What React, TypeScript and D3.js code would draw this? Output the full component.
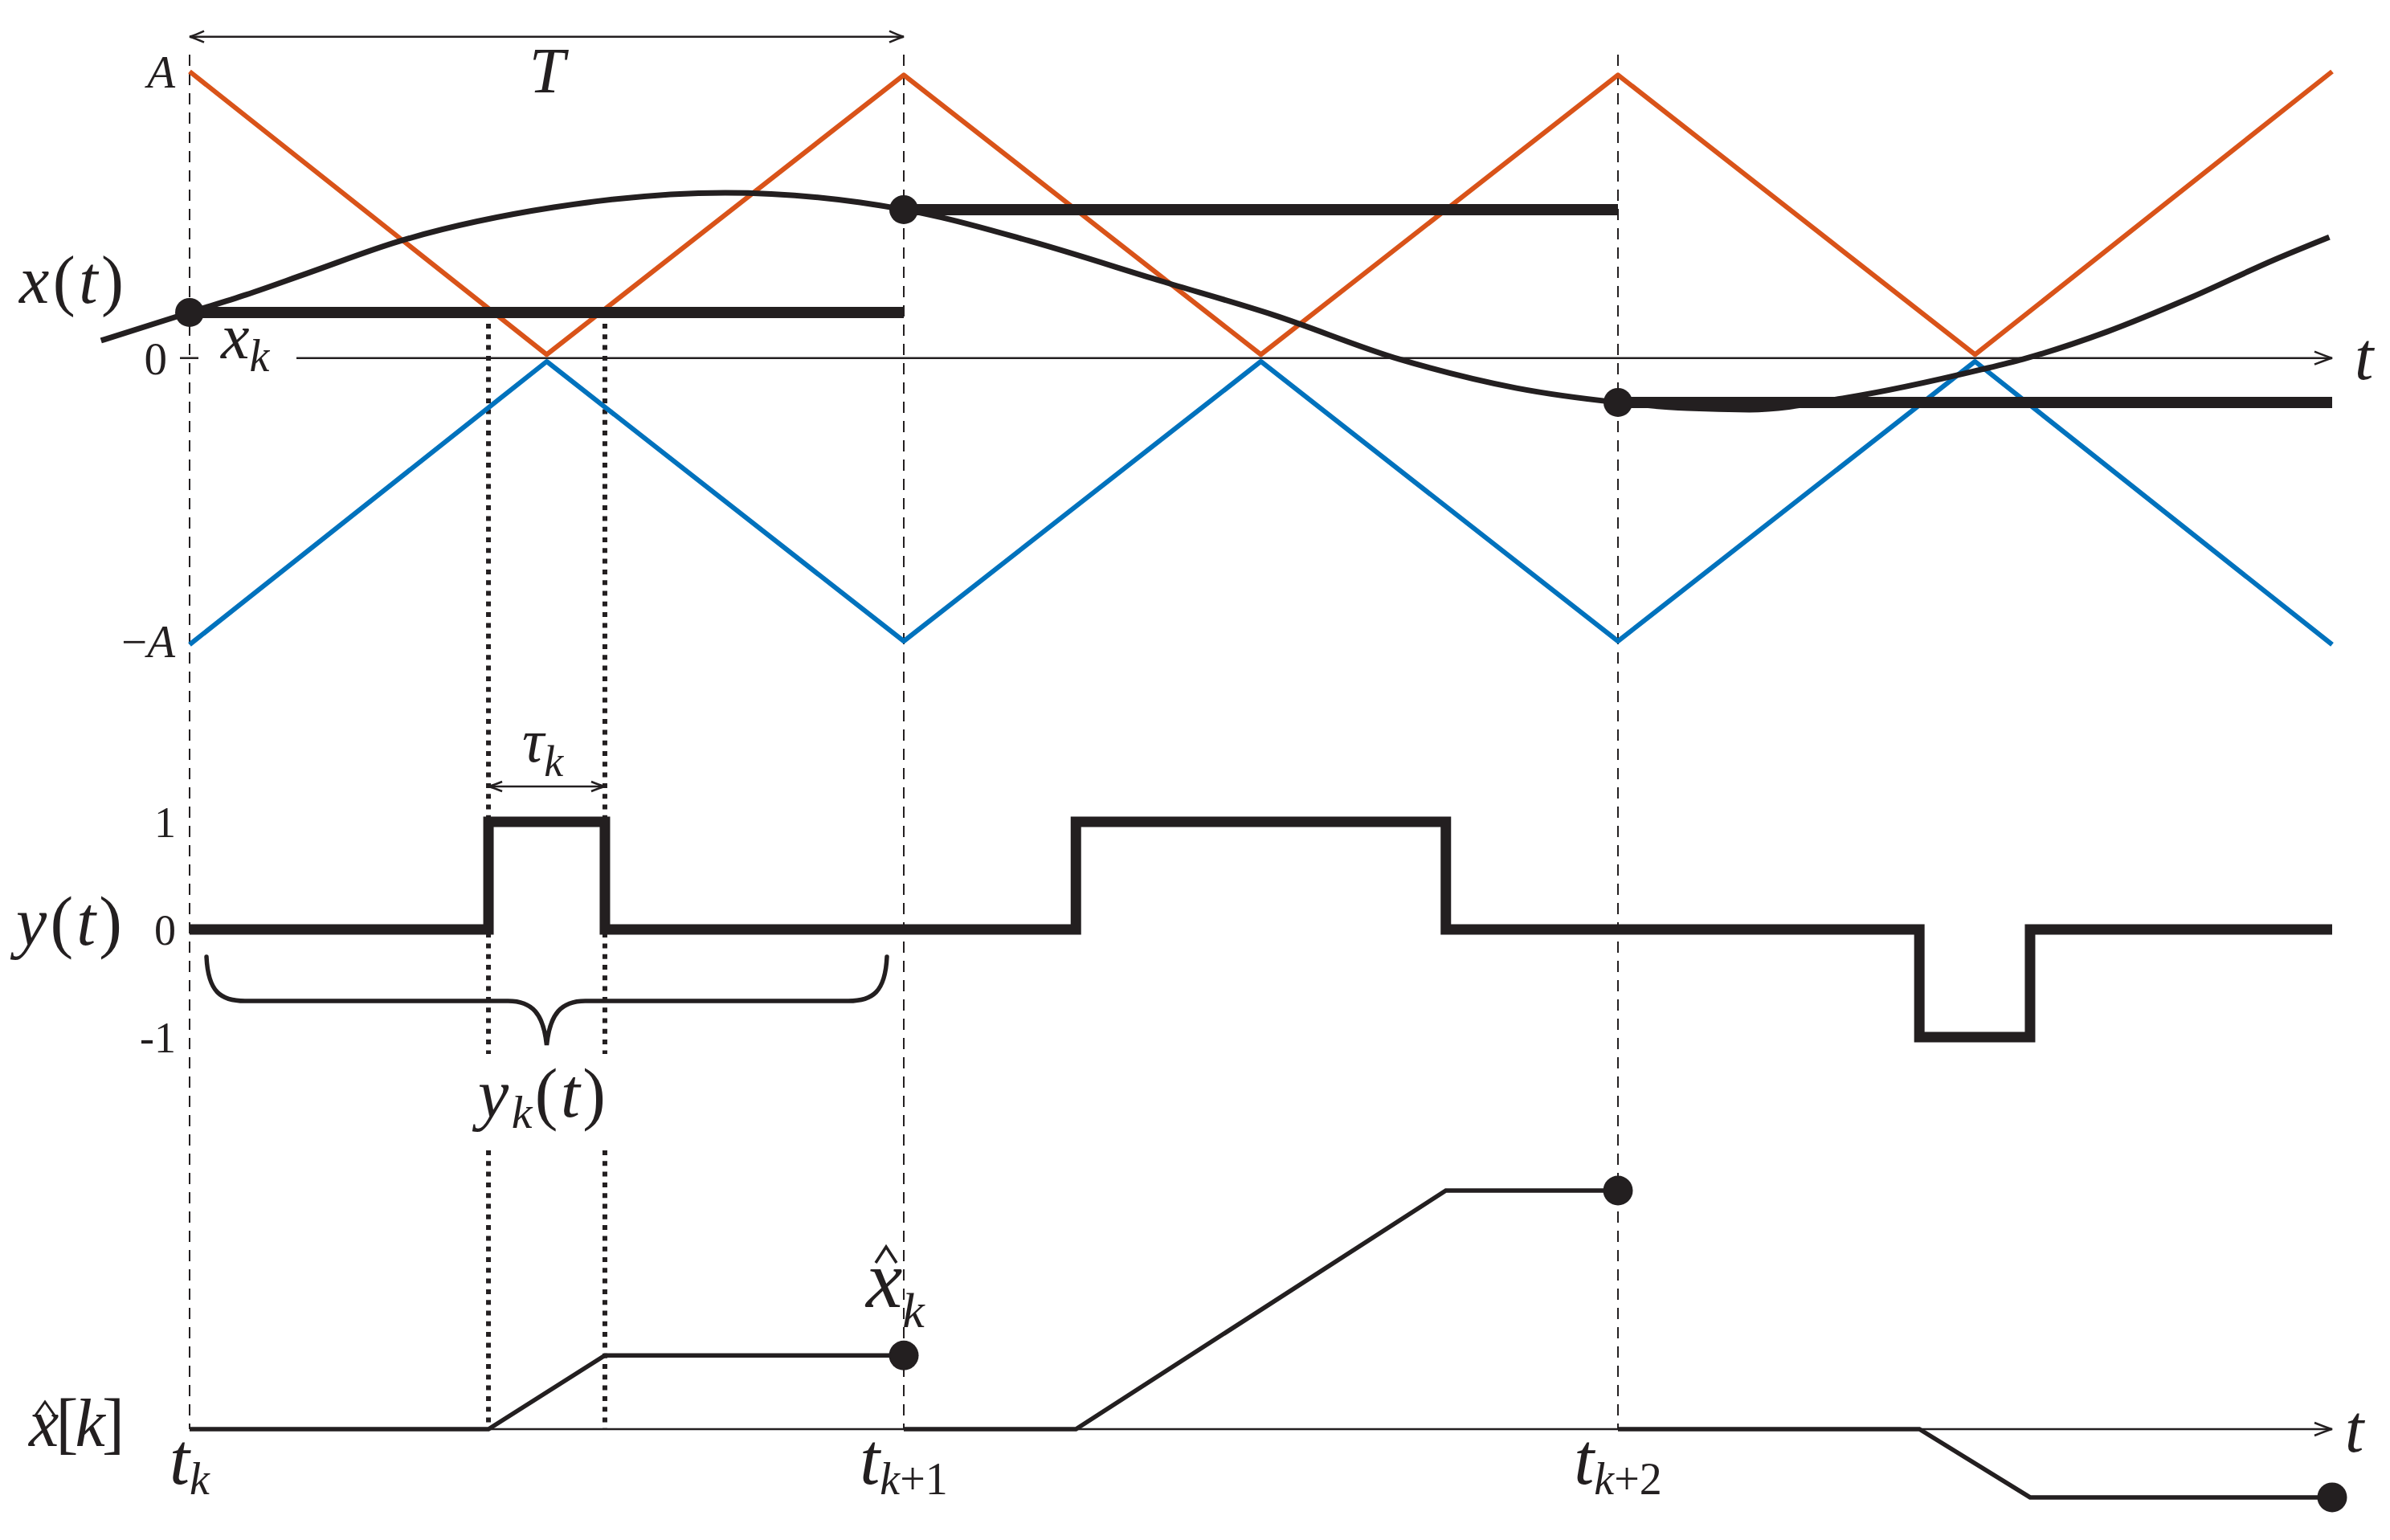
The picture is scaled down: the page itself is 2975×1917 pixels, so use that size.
import * as d3 from "d3";

// time is in units of T, measured from t_k; amplitudes in units of A
const carrierT = [0, 0.5, 1, 1.5, 2, 2.5, 3];
const carrierUp = [1, 0.012, 0.988, 0.012, 0.988, 0.012, 1];
const carrierDown = [-1, -0.012, -0.988, -0.012, -0.988, -0.012, -1];

// x(t)
const signalT = [-0.124, 0, 0.079, 0.165, 0.294, 0.51, 0.75, 0.939, 1.0, 1.04, 1.177, 1.36, 1.517, 1.694, 1.858, 2.0, 2.097, 2.184, 2.321, 2.509, 2.567, 2.685, 2.803, 2.92, 2.996];
const signalX = [0.061, 0.159, 0.221, 0.296, 0.408, 0.526, 0.577, 0.543, 0.518, 0.498, 0.408, 0.269, 0.151, -0.004, -0.105, -0.155, -0.175, -0.18, -0.138, -0.04, -0.004, 0.092, 0.212, 0.344, 0.422];

// held samples x_k
const sampleT = [0, 1, 2];
const sampleX = [0.159, 0.518, -0.155];

// pulses of y(t)
const pulseStart = [0.4185, 1.241, 2.422];
const pulseEnd = [0.5815, 1.759, 2.577];
const pulseSign = [1, 1, -1];

// reconstructed x̂ levels
const xhatLevel = [0.161, 0.521, -0.149];

const ampTicks = [1, 0, -1];
const yTicks = [1, 0, -1];
const yTickLabels = ["1", "0", "-1"];
const timeSubs = ["k", "k+1", "k+2"];

const W = 2975;
const H = 1917;
const FONT = "Liberation Serif, DejaVu Serif, serif";
const INK = "#231f20";

const x = d3.scaleLinear().domain([0, 3]).range([236, 2903]);
const yA = d3.scaleLinear().domain([-1, 1]).range([802.4, 89]);
const yY = d3.scaleLinear().domain([-1, 1]).range([1291, 1023]);
const yH = d3.scaleLinear().domain([0, 1]).range([1779, 1209]);

function arrowHead(tipX: number, y: number, dir: number, len = 18, half = 7) {
    return `M${tipX - dir * len},${y - half} Q${tipX - dir * 6},${y - 1.5} ${tipX},${y} Q${tipX - dir * 6},${y + 1.5} ${tipX - dir * len},${y + half}`;
}

export default function App() {
    const lineA = d3.line<[number, number]>().x(d => x(d[0])).y(d => yA(d[1]));
    const curveA = d3.line<[number, number]>().x(d => x(d[0])).y(d => yA(d[1])).curve(d3.curveMonotoneX);
    const lineY = d3.line<[number, number]>().x(d => x(d[0])).y(d => yY(d[1]));
    const lineH = d3.line<[number, number]>().x(d => x(d[0])).y(d => yH(d[1]));

    const up = carrierT.map((t, i) => [t, carrierUp[i]] as [number, number]);
    const down = carrierT.map((t, i) => [t, carrierDown[i]] as [number, number]);
    const sig = signalT.map((t, i) => [t, signalX[i]] as [number, number]);

    const pulsePts: [number, number][] = [[0, 0]];
    pulseStart.forEach((s, i) => {
        pulsePts.push([s, 0], [s, pulseSign[i]], [pulseEnd[i], pulseSign[i]], [pulseEnd[i], 0]);
    });
    pulsePts.push([3, 0]);

    const xhatSegs = sampleT.map((k, i) => [
        [k, 0], [pulseStart[i], 0], [pulseEnd[i], xhatLevel[i]], [k + 1, xhatLevel[i]],
    ] as [number, number][]);

    const y0 = yA(0);
    const yB = yH(0);
    const dotTop = yA(sampleX[0]) + 14;

    // brace under the first period
    const bL = x(0) + 21, bR = x(1) - 21, bM = x(0.5);
    const braceD = `M${bL},1191 C${bL + 2},1235 ${bL + 18},1246 ${bL + 48},1246 L${bM - 48},1246 C${bM - 18},1246 ${bM - 4},1262 ${bM},1301 C${bM + 4},1262 ${bM + 18},1246 ${bM + 48},1246 L${bR - 48},1246 C${bR - 18},1246 ${bR - 2},1235 ${bR},1191`;

    return (
        <svg width={W} height={H} style={{ position: "absolute", left: 0, top: 0, background: "#fff", fontFamily: FONT }} fill={INK}>
            {/* dashed sampling instants */}
            {sampleT.map(k => (
                <line key={k} x1={x(k)} x2={x(k)} y1={68} y2={yB} stroke={INK} strokeWidth={2} strokeDasharray="14 10" />
            ))}

            {/* dotted crossing lines */}
            {[pulseStart[0], pulseEnd[0]].map(t => (
                <g key={t}>
                    <line x1={x(t)} x2={x(t)} y1={dotTop} y2={1312} stroke={INK} strokeWidth={6} strokeDasharray="6 7.3" />
                    <line x1={x(t)} x2={x(t)} y1={1432} y2={yB} stroke={INK} strokeWidth={6} strokeDasharray="6 7.3" />
                </g>
            ))}

            {/* T arrow */}
            <line x1={x(0)} x2={x(1)} y1={45.7} y2={45.7} stroke={INK} strokeWidth={2.5} />
            <path d={arrowHead(x(0), 45.7, -1)} fill="none" stroke={INK} strokeWidth={2.5} />
            <path d={arrowHead(x(1), 45.7, 1)} fill="none" stroke={INK} strokeWidth={2.5} />
            <text x={681} y={115} fontSize={80} fontStyle="italic" textAnchor="middle">T</text>

            {/* top axis */}
            <line x1={224} x2={247} y1={y0} y2={y0} stroke={INK} strokeWidth={2.5} />
            <line x1={369} x2={2900} y1={y0} y2={y0} stroke={INK} strokeWidth={2.5} />
            <path d={arrowHead(2903, y0, 1, 22, 8)} fill="none" stroke={INK} strokeWidth={2.5} />
            <text x={2931} y={472} fontSize={84} fontStyle="italic">t</text>

            {/* carriers */}
            <path d={lineA(up) || ""} fill="none" stroke="#d95319" strokeWidth={6} strokeLinejoin="round" />
            <path d={lineA(down) || ""} fill="none" stroke="#0072bd" strokeWidth={6} strokeLinejoin="round" />

            {/* x(t) and held samples */}
            <path d={curveA(sig) || ""} fill="none" stroke={INK} strokeWidth={7} />
            {sampleT.map((k, i) => (
                <line key={k} x1={x(k)} x2={x(k + 1)} y1={yA(sampleX[i])} y2={yA(sampleX[i])} stroke={INK} strokeWidth={14} />
            ))}
            {sampleT.map((k, i) => (
                <circle key={k} cx={x(k)} cy={yA(sampleX[i])} r={18} fill={INK} />
            ))}

            {/* amplitude labels */}
            {ampTicks.map(v => (
                <text key={v} x={v === 0 ? 208 : 218} y={yA(v) + (v === -1 ? 16 : 20)} fontSize={57} textAnchor="end">
                    {v === 1 && <tspan fontStyle="italic">A</tspan>}
                    {v === 0 && "0"}
                    {v === -1 && <><tspan>{"\u2212"}</tspan><tspan fontStyle="italic">A</tspan></>}
                </text>
            ))}
            <text x={24} y={377} fontSize={84} textLength={130} lengthAdjust="spacing">
                <tspan fontStyle="italic">x</tspan>(<tspan fontStyle="italic">t</tspan>)
            </text>
            <text x={275} y={446} fontSize={80} fontStyle="italic">
                x<tspan fontSize={56} dy={16}>k</tspan>
            </text>

            {/* tau arrow */}
            <line x1={x(pulseStart[0])} x2={x(pulseEnd[0])} y1={979} y2={979} stroke={INK} strokeWidth={2.5} />
            <path d={arrowHead(x(pulseStart[0]), 979, -1, 17, 6)} fill="none" stroke={INK} strokeWidth={2.5} />
            <path d={arrowHead(x(pulseEnd[0]), 979, 1, 17, 6)} fill="none" stroke={INK} strokeWidth={2.5} />
            <text x={650} y={948} fontSize={76} fontStyle="italic">
                τ<tspan fontSize={54} dy={18}>k</tspan>
            </text>

            {/* y(t) */}
            <path d={lineY(pulsePts) || ""} fill="none" stroke={INK} strokeWidth={13} strokeLinejoin="miter" />
            {yTicks.map((v, i) => (
                <text key={v} x={219} y={yY(v) + 19} fontSize={54} textAnchor="end">{yTickLabels[i]}</text>
            ))}
            <text x={20} y={1176} fontSize={86} textLength={132} lengthAdjust="spacing">
                <tspan fontStyle="italic">y</tspan>(<tspan fontStyle="italic">t</tspan>)
            </text>
            <path d={braceD} fill="none" stroke={INK} strokeWidth={5.5} strokeLinecap="round" />
            <text x={595} y={1390} fontSize={86} textLength={159} lengthAdjust="spacing">
                <tspan fontStyle="italic">y</tspan><tspan fontStyle="italic" fontSize={58} dy={14}>k</tspan><tspan dy={-14}>(</tspan><tspan fontStyle="italic">t</tspan>)
            </text>

            {/* x̂[k] */}
            <line x1={x(0)} x2={2900} y1={yB} y2={yB} stroke={INK} strokeWidth={2.5} />
            <path d={arrowHead(2903, yB, 1, 22, 8)} fill="none" stroke={INK} strokeWidth={2.5} />
            <text x={2919} y={1807} fontSize={84} fontStyle="italic">t</text>
            {xhatSegs.map((seg, i) => (
                <path key={i} d={lineH(seg) || ""} fill="none" stroke={INK} strokeWidth={5.5} />
            ))}
            {sampleT.map((k, i) => (
                <circle key={k} cx={x(k + 1)} cy={yH(xhatLevel[i])} r={18.5} fill={INK} />
            ))}
            <text x={1078} y={1627} fontSize={102} fontStyle="italic">
                x<tspan fontSize={62} dy={25}>k</tspan>
            </text>
            <path d="M1090,1572 L1103,1552 L1116,1572" fill="none" stroke={INK} strokeWidth={3.5} />
            <text x={36} y={1800} fontSize={84} textLength={119} lengthAdjust="spacing">
                <tspan fontStyle="italic">x</tspan>[<tspan fontStyle="italic">k</tspan>]
            </text>
            <path d="M44,1762 L56,1745 L68,1762" fill="none" stroke={INK} strokeWidth={3} />

            {/* time labels */}
            {sampleT.map((k, i) => (
                <text key={k} x={x(k)} y={1847} fontSize={90} textAnchor="middle">
                    <tspan fontStyle="italic">t</tspan>
                    <tspan fontSize={56} dy={13}>
                        <tspan fontStyle="italic">k</tspan>{timeSubs[i].slice(1)}
                    </tspan>
                </text>
            ))}
        </svg>
    );
}
